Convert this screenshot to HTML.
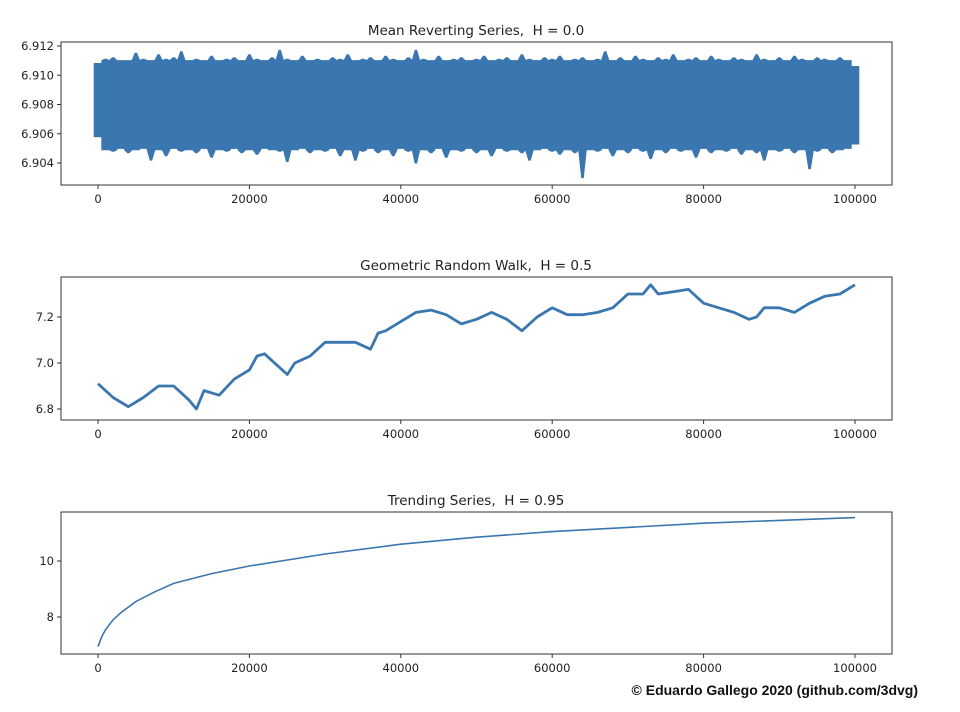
<!DOCTYPE html>
<html><head><meta charset="utf-8">
<style>
html,body{margin:0;padding:0;background:#fff;}
svg{display:block;font-family:"DejaVu Sans","Liberation Sans",sans-serif;}
</style></head>
<body>
<svg id="fig" width="960" height="712" viewBox="0 0 960 712" xmlns="http://www.w3.org/2000/svg"></svg>
<script>
// ---------- data ----------
const xTicks = [0, 20000, 40000, 60000, 80000, 100000];
// Panel 1: mean reverting (envelope per 1000 steps)
const mrUpper = [6.9108,6.9111,6.9112,6.9110,6.9110,6.9115,6.9111,6.9110,6.9114,6.9111,6.9112,6.9116,6.9110,6.9111,6.9110,6.9113,6.9110,6.9111,6.9112,6.9110,6.9114,6.9111,6.9110,6.9112,6.9117,6.9111,6.9110,6.9113,6.9110,6.9111,6.9110,6.9112,6.9111,6.9114,6.9110,6.9111,6.9112,6.9110,6.9113,6.9111,6.9110,6.9112,6.9117,6.9111,6.9110,6.9113,6.9110,6.9111,6.9112,6.9110,6.9111,6.9113,6.9110,6.9111,6.9112,6.9110,6.9114,6.9111,6.9110,6.9112,6.9111,6.9113,6.9110,6.9111,6.9112,6.9110,6.9111,6.9116,6.9110,6.9112,6.9110,6.9113,6.9111,6.9110,6.9112,6.9111,6.9114,6.9110,6.9111,6.9112,6.9110,6.9113,6.9111,6.9110,6.9112,6.9111,6.9110,6.9114,6.9111,6.9110,6.9112,6.9110,6.9113,6.9111,6.9110,6.9112,6.9111,6.9110,6.9112,6.9110,6.9106];
const mrLower = [6.9058,6.9049,6.9048,6.9050,6.9047,6.9049,6.9050,6.9042,6.9049,6.9045,6.9050,6.9048,6.9049,6.9047,6.9050,6.9044,6.9049,6.9048,6.9050,6.9047,6.9049,6.9046,6.9050,6.9049,6.9048,6.9041,6.9049,6.9050,6.9047,6.9049,6.9048,6.9050,6.9045,6.9049,6.9042,6.9048,6.9050,6.9047,6.9049,6.9045,6.9050,6.9048,6.9040,6.9049,6.9047,6.9050,6.9044,6.9049,6.9048,6.9050,6.9047,6.9049,6.9045,6.9050,6.9048,6.9049,6.9047,6.9042,6.9049,6.9050,6.9048,6.9046,6.9049,6.9047,6.9030,6.9049,6.9048,6.9050,6.9045,6.9049,6.9047,6.9050,6.9048,6.9043,6.9049,6.9047,6.9050,6.9048,6.9049,6.9044,6.9050,6.9047,6.9049,6.9048,6.9050,6.9046,6.9049,6.9047,6.9042,6.9049,6.9048,6.9050,6.9047,6.9049,6.9036,6.9048,6.9050,6.9047,6.9049,6.9050,6.9053];
const mrYTicks = [6.904, 6.906, 6.908, 6.910, 6.912];
// Panel 2: geometric random walk
const rwX = [0,2000,4000,6000,8000,10000,12000,13000,14000,16000,18000,20000,21000,22000,24000,25000,26000,28000,30000,32000,34000,36000,37000,38000,40000,42000,44000,46000,48000,50000,52000,54000,56000,58000,60000,62000,64000,66000,68000,70000,72000,73000,74000,76000,78000,80000,82000,84000,86000,87000,88000,90000,92000,94000,96000,98000,100000];
const rwY = [6.91,6.85,6.81,6.85,6.90,6.90,6.84,6.80,6.88,6.86,6.93,6.97,7.03,7.04,6.98,6.95,7.00,7.03,7.09,7.09,7.09,7.06,7.13,7.14,7.18,7.22,7.23,7.21,7.17,7.19,7.22,7.19,7.14,7.20,7.24,7.21,7.21,7.22,7.24,7.30,7.30,7.34,7.30,7.31,7.32,7.26,7.24,7.22,7.19,7.20,7.24,7.24,7.22,7.26,7.29,7.30,7.34];
const rwYTicks = [6.8, 7.0, 7.2];
// Panel 3: trending series
const trX = [0,500,1000,2000,3000,5000,7500,10000,15000,20000,30000,40000,50000,60000,70000,80000,90000,100000];
const trY = [6.95,7.3,7.55,7.9,8.15,8.55,8.9,9.2,9.55,9.82,10.25,10.6,10.85,11.05,11.2,11.35,11.45,11.55];
const trYTicks = [8, 10];

// ---------- drawing ----------
const NS = "http://www.w3.org/2000/svg";
const svg = document.getElementById("fig");
const COLOR = "#3a76af";
function mk(tag, attrs, parent) {
  const e = document.createElementNS(NS, tag);
  for (const k in attrs) e.setAttribute(k, attrs[k]);
  (parent || svg).appendChild(e);
  return e;
}
const xScale = v => 98 + (v / 100000) * 757;
function panel(cfg) {
  const g = mk("g", {});
  
  
  const yScale = v => cfg.y0px + (v - cfg.y0) / (cfg.y1 - cfg.y0) * (cfg.y1px - cfg.y0px);
  const t = mk("text", {x: 476, y: cfg.top - 7, "text-anchor": "middle", "font-size": 13.5, fill: "#222"}, g);
  t.setAttribute("xml:space", "preserve");
  t.style.whiteSpace = "pre";
  t.textContent = cfg.title;
  
  
  xTicks.forEach(v => {
    const x = xScale(v);
    mk("line", {x1: x, x2: x, y1: cfg.bottom, y2: cfg.bottom + 4, stroke: "#333", "stroke-width": 1}, g);
    const tx = mk("text", {x: x, y: cfg.bottom + 18, "text-anchor": "middle", "font-size": 11.5, fill: "#222"}, g);
    tx.textContent = v;
    
    
  });
  cfg.yTicks.forEach(v => {
    const y = yScale(v);
    mk("line", {x1: 57, x2: 61, y1: y, y2: y, stroke: "#333", "stroke-width": 1}, g);
    const ty = mk("text", {x: 54, y: y + 4, "text-anchor": "end", "font-size": 11.5, fill: "#222"}, g);
    ty.textContent = cfg.fmt(v);
    
    
  });
  cfg.draw(g, yScale);
  const frame = mk("rect", {x: 61, y: cfg.top, width: 831, height: cfg.bottom - cfg.top, fill: "none", stroke: "#333", "stroke-width": 1}, g);
  
  
}
function median(a) { const s = a.slice().sort((p, q) => p - q); return s[Math.floor(s.length / 2)]; }
panel({
  name: "mean-reverting-panel", title: "Mean Reverting Series,  H = 0.0",
  top: 42, bottom: 185, y0: 6.904, y1: 6.912, y0px: 163, y1px: 46,
  yTicks: mrYTicks, fmt: v => v.toFixed(3),
  draw: (g, ys) => {
    const hw = 3.785, sw = 0.8;
    const uBase = Math.min(median(mrUpper), 6.9110), lBase = Math.max(median(mrLower), 6.9049);
    let d = "";
    mrUpper.forEach((v, i) => {
      const x = xScale(i * 1000);
      const b = ys(Math.min(v, uBase)), y = ys(v);
      d += (i ? "L" : "M") + (x - hw).toFixed(1) + "," + b.toFixed(1);
      d += "L" + (x - sw).toFixed(1) + "," + y.toFixed(1) + "L" + (x + sw).toFixed(1) + "," + y.toFixed(1);
      d += "L" + (x + hw).toFixed(1) + "," + b.toFixed(1);
    });
    for (let i = mrLower.length - 1; i >= 0; i--) {
      const v = mrLower[i], x = xScale(i * 1000);
      const b = ys(Math.max(v, lBase)), y = ys(v);
      d += "L" + (x + hw).toFixed(1) + "," + b.toFixed(1);
      d += "L" + (x + sw).toFixed(1) + "," + y.toFixed(1) + "L" + (x - sw).toFixed(1) + "," + y.toFixed(1);
      d += "L" + (x - hw).toFixed(1) + "," + b.toFixed(1);
    }
    d += "Z";
    const p = mk("path", {d: d, fill: COLOR, stroke: COLOR, "stroke-width": 1, "stroke-linejoin": "miter"}, g);
    
    
  }
});
panel({
  name: "random-walk-panel", title: "Geometric Random Walk,  H = 0.5",
  top: 277, bottom: 420, y0: 6.8, y1: 7.2, y0px: 409, y1px: 317,
  yTicks: rwYTicks, fmt: v => v.toFixed(1),
  draw: (g, ys) => {
    const pts = rwX.map((x, i) => xScale(x).toFixed(1) + "," + ys(rwY[i]).toFixed(1)).join(" ");
    const p = mk("polyline", {points: pts, fill: "none", stroke: COLOR, "stroke-width": 2.8, "stroke-linejoin": "round"}, g);
    
    
  }
});
panel({
  name: "trending-panel", title: "Trending Series,  H = 0.95",
  top: 512, bottom: 654, y0: 8, y1: 10, y0px: 617, y1px: 561,
  yTicks: trYTicks, fmt: v => String(v),
  draw: (g, ys) => {
    const pts = trX.map((x, i) => xScale(x).toFixed(1) + "," + ys(trY[i]).toFixed(1)).join(" ");
    const p = mk("polyline", {points: pts, fill: "none", stroke: COLOR, "stroke-width": 1.6, "stroke-linejoin": "round"}, g);
    
    
  }
});
const cr = mk("text", {x: 918, y: 695, "text-anchor": "end", "font-size": 14, "font-weight": "bold", fill: "#111", "font-family": "Liberation Sans, sans-serif"});
cr.textContent = "© Eduardo Gallego 2020 (github.com/3dvg)";


</script>
</body></html>
